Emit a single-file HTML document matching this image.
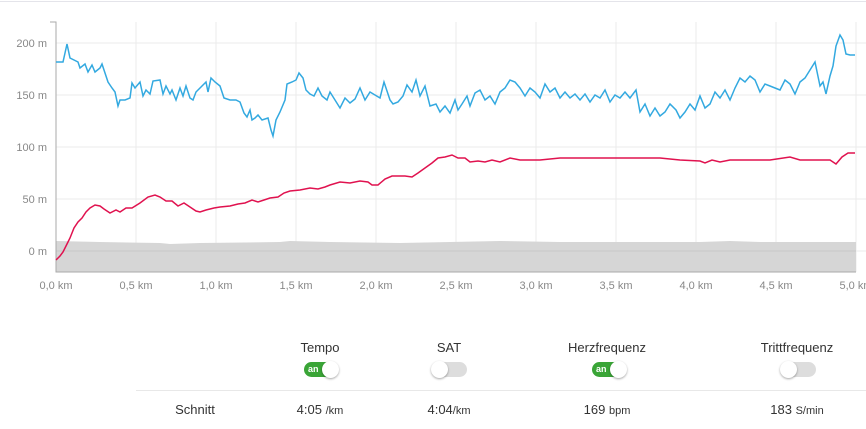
<!DOCTYPE html>
<html><head><meta charset="utf-8"><style>
body{margin:0;width:866px;height:429px;background:#fff;font-family:"Liberation Sans",sans-serif;overflow:hidden;position:relative}
.t{position:absolute;font-size:13px;color:#333;transform:translateX(-50%);white-space:nowrap}
.tg{position:absolute;width:34px;height:15px;border-radius:8px;background:#ddd;transform:translateX(-50%)}
.tg.on{background:#3aa537}
.tg .k{position:absolute;top:-1px;width:17px;height:17px;border-radius:50%;background:#fff;box-shadow:0 1px 2px rgba(0,0,0,.35)}
.tg .l{position:absolute;left:4px;top:0;font-size:9px;color:#fff;font-weight:bold;line-height:14px}
small{font-size:11px}
</style></head><body>
<div style="position:absolute;left:0;top:1px;width:866px;height:1px;background:#e4e4ea"></div>
<svg width="866" height="300" style="position:absolute;left:0;top:0" font-family="Liberation Sans, sans-serif" font-size="11" fill="#888">
<g stroke="#ebebeb" stroke-width="1">
<line x1="56" y1="43" x2="866" y2="43"/><line x1="56" y1="95" x2="866" y2="95"/><line x1="56" y1="147" x2="866" y2="147"/><line x1="56" y1="199" x2="866" y2="199"/><line x1="56" y1="251" x2="866" y2="251"/>
<line x1="136" y1="22" x2="136" y2="272"/><line x1="216" y1="22" x2="216" y2="272"/><line x1="296" y1="22" x2="296" y2="272"/><line x1="376" y1="22" x2="376" y2="272"/><line x1="456" y1="22" x2="456" y2="272"/><line x1="536" y1="22" x2="536" y2="272"/><line x1="616" y1="22" x2="616" y2="272"/><line x1="696" y1="22" x2="696" y2="272"/><line x1="776" y1="22" x2="776" y2="272"/><line x1="856" y1="22" x2="856" y2="272"/>
</g>
<path d="M56,241 L100,242 L160,243 L170,244 L200,243 L280,242 L290,241 L330,242 L400,243 L500,241 L560,242 L700,242 L730,241 L760,242 L856,242 L856,272 L56,272Z" fill="#d6d6d6"/>
<line x1="56" y1="251" x2="856" y2="251" stroke="#c8c8c8"/>
<path d="M50,22 L56,22 L56,272 L856,272" fill="none" stroke="#aaa"/>
<g text-anchor="end"><text x="47" y="47">200 m</text><text x="47" y="99">150 m</text><text x="47" y="151">100 m</text><text x="47" y="203">50 m</text><text x="47" y="255">0 m</text></g>
<g text-anchor="middle"><text x="56" y="289">0,0 km</text><text x="136" y="289">0,5 km</text><text x="216" y="289">1,0 km</text><text x="296" y="289">1,5 km</text><text x="376" y="289">2,0 km</text><text x="456" y="289">2,5 km</text><text x="536" y="289">3,0 km</text><text x="616" y="289">3,5 km</text><text x="696" y="289">4,0 km</text><text x="776" y="289">4,5 km</text><text x="856" y="289">5,0 km</text></g>
<polyline fill="none" stroke="#33a9e0" stroke-width="1.5" points="56,62 63,62 67,44 70,58 78,62 80,68 85,64 88,72 92,65 95,72 100,68 102,64 108,82 112,88 115,92 118,106 120,100 125,100 130,98 132,83 135,88 140,82 143,96 146,90 150,94 153,81 160,80 163,94 166,86 170,94 172,90 176,100 180,88 183,96 186,86 190,98 193,100 196,92 200,88 206,82 208,92 211,78 215,82 220,86 224,98 230,100 236,100 240,102 244,113 247,117 250,110 252,120 255,118 258,115 262,120 268,118 271,130 273,136 276,120 280,112 285,100 287,84 292,82 296,80 299,73 303,78 306,90 310,94 314,96 318,88 322,96 327,100 330,92 335,100 340,108 345,98 350,103 355,99 360,88 365,100 370,92 375,95 380,98 384,82 390,100 393,104 398,102 403,96 407,85 412,92 416,80 420,96 425,86 430,106 436,104 440,112 445,106 450,113 455,100 458,110 462,104 467,96 470,106 475,93 480,90 485,100 490,96 495,104 500,92 505,88 510,80 515,82 520,88 525,96 530,88 535,92 540,98 545,84 550,92 555,88 560,98 565,92 570,98 575,94 580,100 585,94 590,102 595,95 600,98 605,90 610,102 615,95 620,98 625,92 630,98 636,90 640,112 645,104 650,116 655,108 660,116 665,112 670,104 676,110 680,118 685,112 690,104 695,110 700,96 705,108 710,104 715,92 720,98 725,90 730,100 735,88 740,78 745,82 750,76 755,80 760,92 765,84 770,86 775,88 780,90 785,80 790,84 795,94 800,82 805,78 810,70 815,62 820,86 823,82 826,94 830,76 833,66 836,46 840,35 843,40 846,54 850,55 855,55"/>
<polyline fill="none" stroke="#e0124f" stroke-width="1.5" points="56,260 60,256 63,252 66,246 70,238 74,228 78,222 82,218 86,212 90,208 95,205 100,206 104,209 110,213 116,210 120,212 126,208 132,208 140,203 148,197 155,195 160,197 166,201 172,201 178,206 184,203 190,207 196,211 200,212 206,210 214,208 220,207 230,206 238,204 245,203 252,200 258,202 264,200 270,198 278,197 284,193 290,191 300,190 310,188 318,189 325,187 330,185 340,182 350,183 360,181 368,182 372,185 378,185 385,179 392,176 398,176 405,176 412,177 418,173 425,168 432,163 438,158 445,157 452,155 458,158 465,158 470,162 478,161 485,162 492,160 500,162 510,158 520,160 530,160 540,160 560,158 600,158 660,158 680,160 700,161 705,163 712,160 720,162 730,160 750,160 770,160 790,157 800,160 830,160 836,164 842,157 848,153 855,153"/>
</svg>
<div class="t" style="left:320px;top:340px">Tempo</div>
<div class="t" style="left:449px;top:340px">SAT</div>
<div class="t" style="left:607px;top:340px">Herzfrequenz</div>
<div class="t" style="left:797px;top:340px">Trittfrequenz</div>
<div class="tg on" style="left:321px;top:362px"><span class="l">an</span><span class="k" style="right:-1px"></span></div>
<div class="tg" style="left:450px;top:362px"><span class="k" style="left:-2px"></span></div>
<div class="tg on" style="left:609px;top:362px"><span class="l">an</span><span class="k" style="right:-1px"></span></div>
<div class="tg" style="left:799px;top:362px"><span class="k" style="left:-2px"></span></div>
<div style="position:absolute;left:136px;top:390px;width:730px;height:1px;background:#e8e8e8"></div>
<div class="t" style="left:195px;top:402px">Schnitt</div>
<div class="t" style="left:320px;top:402px">4:05 <small>/km</small></div>
<div class="t" style="left:449px;top:402px">4:04<small>/km</small></div>
<div class="t" style="left:607px;top:402px">169 <small>bpm</small></div>
<div class="t" style="left:797px;top:402px">183 <small>S/min</small></div>
</body></html>
